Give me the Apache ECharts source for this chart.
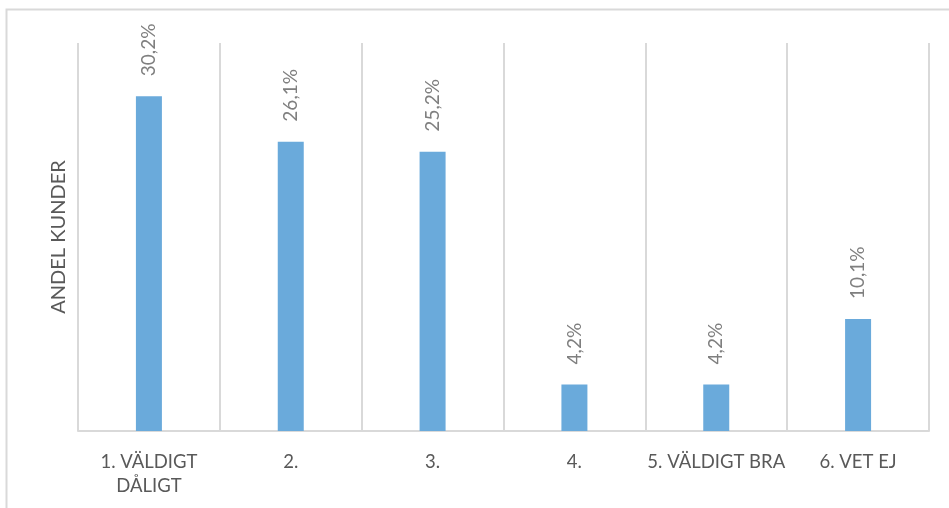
<!DOCTYPE html>
<html>
<head>
<meta charset="utf-8">
<style>
  html, body { margin: 0; padding: 0; background: #ffffff; }
  #chart { width: 949px; height: 508px; }
</style>
<script src="https://cdn.jsdelivr.net/npm/echarts@6/dist/echarts.min.js"></script>
</head>
<body>
<div id="chart"></div>
<script>
// Survey answers and share of customers (%)
const categories = ['1. VÄLDIGT DÅLIGT', '2.', '3.', '4.', '5. VÄLDIGT BRA', '6. VET EJ'];
const shares = [30.2, 26.1, 25.2, 4.2, 4.2, 10.1];
const axisTitle = 'ANDEL KUNDER';

const FONT = 'Lato';
const chart = echarts.init(document.getElementById('chart'), null, { renderer: 'canvas' });

// long answer texts wrap their last word onto a second line
const wrapLabel = v => (v.length > 15 ? v.replace(/ (\S+)$/, '\n$1') : v);

chart.setOption({
  backgroundColor: '#ffffff',
  animation: false,
  graphic: [{
    type: 'rect',
    shape: { x: 6.5, y: 9.5, width: 1000, height: 600 },
    style: { fill: 'none', stroke: '#d9d9d9', lineWidth: 2 },
    silent: true,
    z: -1
  }],
  grid: { left: 78, right: 20, top: 43, bottom: 77, containLabel: false },
  xAxis: {
    type: 'category',
    data: categories,
    axisLine: { show: true, lineStyle: { color: '#d9d9d9', width: 2 } },
    axisTick: { show: false },
    splitLine: { show: true, interval: 0, lineStyle: { color: '#d9d9d9', width: 2 } },
    axisLabel: {
      interval: 0,
      color: '#595959',
      fontFamily: FONT,
      fontSize: 18.5,
      lineHeight: 24,
      margin: 19,
      formatter: wrapLabel
    }
  },
  yAxis: {
    type: 'value',
    min: 0,
    max: 35,
    name: axisTitle,
    nameLocation: 'middle',
    nameGap: 9,
    nameTextStyle: { color: '#595959', fontFamily: FONT, fontSize: 20 },
    axisLine: { show: false },
    axisTick: { show: false },
    axisLabel: { show: false },
    splitLine: { show: false }
  },
  series: [{
    type: 'bar',
    data: shares,
    barWidth: 26,
    itemStyle: { color: '#6aaadb' },
    label: {
      show: true,
      position: 'top',
      distance: 20,
      rotate: 90,
      align: 'left',
      verticalAlign: 'middle',
      color: '#7f7f7f',
      fontFamily: FONT,
      fontSize: 19,
      formatter: p => p.value.toFixed(1).replace('.', ',') + '%'
    }
  }]
});
</script>
</body>
</html>
